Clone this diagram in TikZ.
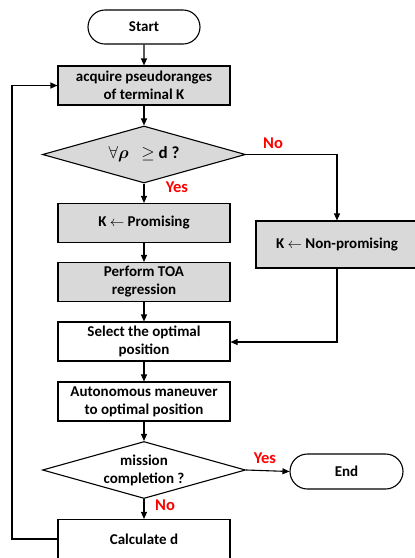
\documentclass[tikz,border=0pt]{standalone}
\usepackage{fontspec}
\usepackage{amsmath,amssymb}
\setmainfont{Carlito}
\usetikzlibrary{shapes.geometric,shapes.misc,arrows.meta}
\begin{document}
\begin{tikzpicture}[x=1pt,y=-1pt,
  every node/.style={font=\fontsize{15}{18}\selectfont\bfseries, align=center},
  box/.style={draw, line width=1.1pt, minimum width=172pt, minimum height=39pt, inner sep=0pt},
  gbox/.style={box, fill=black!15},
  term/.style={draw, line width=1.1pt, rounded rectangle, minimum width=112pt, minimum height=34pt, inner sep=0pt},
  dec/.style={draw, line width=1.1pt, diamond, aspect=3.6, minimum width=203pt, minimum height=57pt, inner sep=0pt},
  lab/.style={text=red, font=\fontsize{16.5}{18}\selectfont\bfseries},
  arr/.style={line width=1.1pt, -{Triangle[length=7pt,width=6pt]}},
  ln/.style={line width=1.1pt}]
\useasboundingbox (0,0) rectangle (415,558);
\node[term] (start) at (144,27) {Start};
\node[gbox] (acq) at (144,85.5) {acquire pseudoranges\\of terminal K};
\node[dec, fill=black!15] (d1) at (144,154.5) {\fontsize{17}{18}\selectfont$\forall\boldsymbol{\rho}\ \ \geq$ d ?};
\node[gbox] (prom) at (144,223) {K $\leftarrow$ Promising};
\node[gbox, minimum width=162pt, minimum height=47pt] (nonp) at (337,244.5) {K $\leftarrow$ Non-promising};
\node[gbox] (toa) at (144,282) {Perform TOA\\regression};
\node[box] (sel) at (144,341.5) {Select the optimal\\position};
\node[box] (auto) at (144,401.5) {Autonomous maneuver\\to optimal position};
\node[dec] (d2) at (144,470) {mission\\completion ?};
\node[term, minimum width=113pt, minimum height=35pt] (end) at (346.5,471.5) {End};
\node[box] (calc) at (144,539) {Calculate d};
\coordinate (nr) at (337,154.5);
\coordinate (nb) at (337,342);
\coordinate (cl) at (12,539);
\coordinate (al) at (12,85.5);
\node[lab] (no1) at (273,143) {No};
\node[lab] (yes1) at (177,187) {Yes};
\node[lab] (yes2) at (265,458) {Yes};
\node[lab] (no2) at (165,505) {No};
\draw[arr] (start) -- (acq);
\draw[arr] (acq) -- (d1);
\draw[arr] (d1) -- (prom);
\draw[arr] (prom) -- (toa);
\draw[arr] (toa) -- (sel);
\draw[arr] (sel) -- (auto);
\draw[arr] (auto) -- (d2);
\draw[arr] (d2) -- (calc);
\draw[arr] (d2.east) -- (end.west);
\draw[arr] (d1.east) -- (nr) -- (nonp.north);
\draw[arr] (nonp.south) -- (nb) -- (sel.east |- nb);
\draw[arr] (calc.west) -- (cl) -- (al) -- (acq.west);
\end{tikzpicture}
\end{document}
